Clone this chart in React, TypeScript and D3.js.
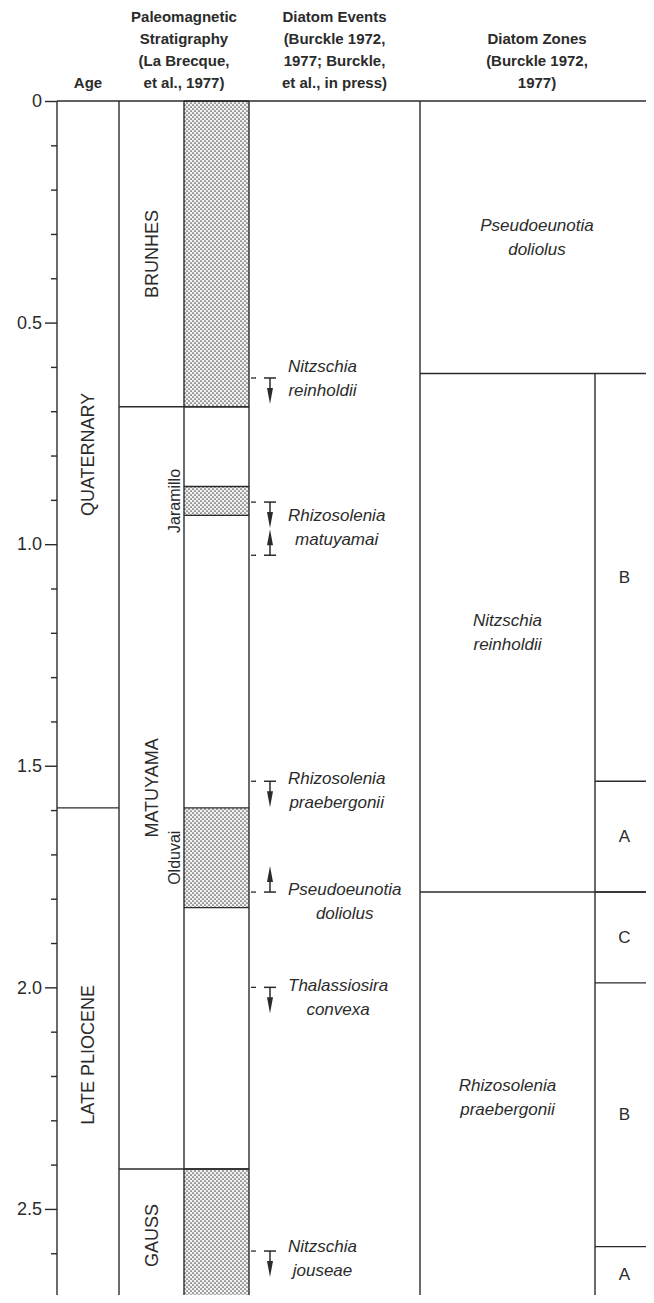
import React, { useEffect, useRef } from 'react';
import * as d3 from 'd3';

// age scale (Ma)
const ageMajor = [0, 0.5, 1.0, 1.5, 2.0, 2.5];
const ageMinor = [0.1, 0.2, 0.3, 0.4, 0.6, 0.7, 0.8, 0.9, 1.1, 1.2, 1.3, 1.4, 1.6, 1.7, 1.8, 1.9, 2.1, 2.2, 2.3, 2.4, 2.6];
const ageBase = 2.71;

const epochNames = ['QUATERNARY', 'LATE PLIOCENE'];
const epochBounds = [0, 1.595, 2.71];

const chronNames = ['BRUNHES', 'MATUYAMA', 'GAUSS'];
const chronBounds = [0, 0.69, 2.41, 2.71];

// normal polarity intervals (stippled)
const normalIntervals = [
  { name: '', top: 0, base: 0.69 },
  { name: 'Jaramillo', top: 0.87, base: 0.935 },
  { name: 'Olduvai', top: 1.595, base: 1.82 },
  { name: '', top: 2.41, base: 2.71 },
];

// diatom datums: down = last occurrence, up = first occurrence
const datums = [
  { age: 0.625, dir: 'down' },
  { age: 0.905, dir: 'down' },
  { age: 1.025, dir: 'up' },
  { age: 1.535, dir: 'down' },
  { age: 1.785, dir: 'up' },
  { age: 2.0, dir: 'down' },
  { age: 2.595, dir: 'down' },
];

const datumLabels = [
  { lines: ['Nitzschia', 'reinholdii'], age: 0.6 },
  { lines: ['Rhizosolenia', 'matuyamai'], age: 0.935 },
  { lines: ['Rhizosolenia', 'praebergonii'], age: 1.528 },
  { lines: ['Pseudoeunotia', 'doliolus'], age: 1.78 },
  { lines: ['Thalassiosira', 'convexa'], age: 1.995 },
  { lines: ['Nitzschia', 'jouseae'], age: 2.585 },
];

const zoneNames = [
  ['Pseudoeunotia', 'doliolus'],
  ['Nitzschia', 'reinholdii'],
  ['Rhizosolenia', 'praebergonii'],
];
const zoneBounds = [0, 0.615, 1.785, 2.71];

const subzoneNames = ['B', 'A', 'C', 'B', 'A'];
const subzoneBounds = [0.615, 1.535, 1.785, 1.99, 2.585, 2.71];

const headers = [
  { col: 'age', lines: ['Age'] },
  { col: 'paleo', lines: ['Paleomagnetic', 'Stratigraphy', '(La Brecque,', 'et al., 1977)'] },
  { col: 'events', lines: ['Diatom Events', '(Burckle 1972,', '1977; Burckle,', 'et al., in press)'] },
  { col: 'zones', lines: ['Diatom Zones', '(Burckle 1972,', '1977)'] },
];

const W = 654;
const H = 1303;
const FONT = "'Liberation Sans', Arial, sans-serif";
const INK = '#2b2b2b';

// column edges
const xAxis = 57;
const xChron = 119;
const xPol = 184;
const xEv = 249;
const xZone = 420;
const xSub = 595;
const xRight = 654;

const colCenter = {
  age: (xAxis + xChron) / 2,
  paleo: (xChron + xEv) / 2,
  events: (xEv + xZone) / 2,
  zones: (xZone + xRight) / 2,
};

export default function App() {
  const svgRef = useRef(null);

  useEffect(() => {
    const svg = d3.select(svgRef.current);
    svg.selectAll('*').remove();

    const y = d3.scaleLinear().domain([0, ageBase]).range([101, 1302]);

    const defs = svg.append('defs');
    const pat = defs.append('pattern')
      .attr('id', 'stipple')
      .attr('patternUnits', 'userSpaceOnUse')
      .attr('width', 4)
      .attr('height', 4);
    pat.append('rect').attr('width', 4).attr('height', 4).attr('fill', '#f2f2f2');
    pat.append('circle').attr('cx', 1).attr('cy', 1).attr('r', 0.85).attr('fill', '#555');
    pat.append('circle').attr('cx', 3).attr('cy', 3).attr('r', 0.85).attr('fill', '#555');

    svg.append('rect').attr('width', W).attr('height', H).attr('fill', '#fff');

    const line = (x1, y1, x2, y2, w = 1.4) =>
      svg.append('line')
        .attr('x1', x1).attr('y1', y1).attr('x2', x2).attr('y2', y2)
        .attr('stroke', INK).attr('stroke-width', w);

    // headers
    headers.forEach((h) => {
      const n = h.lines.length;
      h.lines.forEach((t, i) => {
        svg.append('text')
          .attr('x', colCenter[h.col])
          .attr('y', 88 - (n - 1 - i) * 22)
          .attr('text-anchor', 'middle')
          .attr('font-family', FONT)
          .attr('font-weight', 'bold')
          .attr('font-size', 15)
          .attr('fill', INK)
          .text(t);
      });
    });

    // stippled normal intervals
    svg.append('g').selectAll('rect')
      .data(normalIntervals)
      .join('rect')
      .attr('x', xPol)
      .attr('y', (d) => y(d.top))
      .attr('width', xEv - xPol)
      .attr('height', (d) => y(d.base) - y(d.top))
      .attr('fill', 'url(#stipple)');

    // age axis
    const major = d3.axisLeft(y)
      .tickValues(ageMajor)
      .tickSize(12)
      .tickSizeOuter(0)
      .tickPadding(3)
      .tickFormat((d) => (d === 0 ? '0' : d3.format('.1f')(d)));
    const gMajor = svg.append('g').attr('transform', `translate(${xAxis},0)`).call(major);
    gMajor.select('.domain').remove();
    gMajor.selectAll('line').attr('stroke', INK).attr('stroke-width', 1.4);
    gMajor.selectAll('text')
      .attr('font-family', FONT)
      .attr('font-size', 18)
      .attr('fill', INK);

    const minor = d3.axisLeft(y).tickValues(ageMinor).tickSize(6).tickFormat(() => '');
    const gMinor = svg.append('g').attr('transform', `translate(${xAxis},0)`).call(minor);
    gMinor.select('.domain').remove();
    gMinor.selectAll('line').attr('stroke', INK).attr('stroke-width', 1.4);

    // top border
    line(xAxis, y(0), xRight, y(0));

    // vertical column lines
    [xAxis, xChron, xPol, xEv, xZone].forEach((x) => line(x, y(0), x, y(ageBase)));
    line(xSub, y(zoneBounds[1]), xSub, y(ageBase));

    const rotLabel = (x, yy, txt, size, anchorBase = false) =>
      svg.append('text')
        .attr('transform', `translate(${x},${yy}) rotate(-90)`)
        .attr('text-anchor', 'middle')
        .attr('dominant-baseline', anchorBase ? 'alphabetic' : 'central')
        .attr('font-family', FONT)
        .attr('font-size', size)
        .attr('fill', INK)
        .text(txt);

    // epoch boundaries + labels
    epochBounds.slice(1, -1).forEach((a) => line(xAxis, y(a), xChron, y(a)));
    epochNames.forEach((n, i) => {
      rotLabel(colCenter.age, y((epochBounds[i] + epochBounds[i + 1]) / 2), n, 18);
    });

    // chron boundaries + labels
    chronBounds.slice(1, -1).forEach((a) => line(xChron, y(a), xEv, y(a)));
    chronNames.forEach((n, i) => {
      rotLabel((xChron + xPol) / 2, y((chronBounds[i] + chronBounds[i + 1]) / 2), n, 18);
    });

    // subchron edges + names
    normalIntervals.forEach((d) => {
      line(xPol, y(d.top), xEv, y(d.top));
      if (d.base < ageBase) line(xPol, y(d.base), xEv, y(d.base));
      if (d.name) rotLabel(xPol - 4, y((d.top + d.base) / 2), d.name, 16, true);
    });

    // datum markers
    const cx = xEv + 21;
    datums.forEach((d) => {
      const y0 = y(d.age);
      const s = d.dir === 'down' ? 1 : -1;
      line(xEv + 2, y0, xEv + 7, y0, 1.3);
      line(cx - 6, y0, cx + 6, y0, 1.5);
      line(cx, y0, cx, y0 + s * 12, 1.5);
      svg.append('path')
        .attr('d', `M${cx - 3},${y0 + s * 10} L${cx + 3},${y0 + s * 10} L${cx},${y0 + s * 26} Z`)
        .attr('fill', INK);
    });

    // datum labels: first line left-aligned, following lines centred on it
    datumLabels.forEach((d) => {
      const y0 = y(d.age);
      const first = svg.append('text')
        .attr('x', 288)
        .attr('y', y0)
        .attr('dominant-baseline', 'central')
        .attr('font-family', FONT)
        .attr('font-style', 'italic')
        .attr('font-size', 17)
        .attr('fill', INK)
        .text(d.lines[0]);
      const w = first.node().getComputedTextLength();
      d.lines.slice(1).forEach((t, i) => {
        svg.append('text')
          .attr('x', 288 + w / 2)
          .attr('y', y0 + (i + 1) * 24)
          .attr('text-anchor', 'middle')
          .attr('dominant-baseline', 'central')
          .attr('font-family', FONT)
          .attr('font-style', 'italic')
          .attr('font-size', 17)
          .attr('fill', INK)
          .text(t);
      });
    });

    // zones
    zoneBounds.slice(1, -1).forEach((a) => line(xZone, y(a), xRight, y(a)));
    zoneNames.forEach((lines, i) => {
      const mid = y((zoneBounds[i] + zoneBounds[i + 1]) / 2);
      const xc = i === 0 ? (xZone + xRight) / 2 : (xZone + xSub) / 2;
      lines.forEach((t, j) => {
        svg.append('text')
          .attr('x', xc)
          .attr('y', mid + (j - (lines.length - 1) / 2) * 24)
          .attr('text-anchor', 'middle')
          .attr('dominant-baseline', 'central')
          .attr('font-family', FONT)
          .attr('font-style', 'italic')
          .attr('font-size', 17)
          .attr('fill', INK)
          .text(t);
      });
    });

    // subzones
    subzoneBounds.slice(1, -1).forEach((a) => line(xSub, y(a), xRight, y(a)));
    subzoneNames.forEach((n, i) => {
      svg.append('text')
        .attr('x', (xSub + xRight) / 2)
        .attr('y', y((subzoneBounds[i] + subzoneBounds[i + 1]) / 2))
        .attr('text-anchor', 'middle')
        .attr('dominant-baseline', 'central')
        .attr('font-family', FONT)
        .attr('font-size', 17)
        .attr('fill', INK)
        .text(n);
    });
  }, []);

  return (
    <div style={{ margin: -8 }}>
      <svg ref={svgRef} width={W} height={H} style={{ display: 'block' }} />
    </div>
  );
}
